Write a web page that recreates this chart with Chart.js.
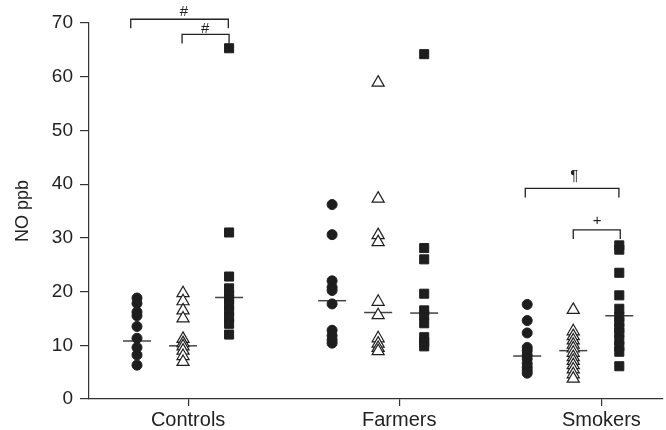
<!DOCTYPE html>
<html>
<head>
<meta charset="utf-8">
<script src="https://cdn.jsdelivr.net/npm/chart.js@4.4.0/dist/chart.umd.min.js"></script>
<style>
  html, body { margin: 0; padding: 0; background: #fff; }
</style>
</head>
<body>
<canvas id="chart" width="666" height="430"></canvas>
<script>
// categories and where they sit on the x axis (axis units)
const categories = ['Controls', 'Farmers', 'Smokers'];
const groupCenters = [1, 2, 3];
const tickPositions = [1.026, 2.108, 3.144];
const subOffsets = [-0.236, 0, 0.236]; // circle, triangle, square

// NO ppb values
const controlsCircle = [18.8, 17.8, 16.2, 15.5, 13.5, 11.3, 9.6, 8.2, 6.3];
const controlsTriangle = [19.7, 18.2, 16.5, 15.0, 11.2, 10.4, 9.8, 9.0, 8.0, 6.9];
const controlsSquare = [65.3, 31.0, 22.8, 20.6, 19.3, 18.6, 17.5, 16.4, 15.2, 14.0, 12.0];

const farmersCircle = [36.2, 30.6, 22.0, 20.8, 20.2, 17.7, 12.8, 11.8, 11.0, 10.4];
const farmersTriangle = [58.9, 37.3, 30.5, 29.2, 18.1, 15.6, 11.3, 10.3, 9.5, 8.9];
const farmersSquare = [64.2, 28.1, 26.0, 19.6, 16.5, 15.6, 14.1, 11.5, 10.6, 9.8];

const smokersCircle = [17.6, 14.6, 12.3, 9.6, 9.0, 8.2, 7.5, 6.6, 5.9, 5.3, 4.8];
const smokersTriangle = [16.6, 12.6, 11.7, 10.9, 10.1, 9.4, 8.6, 7.8, 7.1, 6.3, 5.5, 4.6, 3.8];
const smokersSquare = [28.6, 27.8, 23.5, 19.3, 16.8, 15.3, 14.3, 13.2, 12.3, 11.0, 9.8, 8.8, 6.1];

// median bars: [circle, triangle, square] per group
const controlsMedian = [10.8, 9.9, 18.9];
const farmersMedian = [18.3, 16.1, 16.0];
const smokersMedian = [8.0, 9.0, 15.5];

// significance brackets
const bracketLabels = ['#', '#', '\u00B6', '+'];
const bracketFrom = [0.732, 0.995, 2.754, 3.0];
const bracketTo = [1.232, 1.236, 3.234, 3.241];
const bracketTop = [70.7, 67.9, 39.2, 31.5];
const bracketLeg = 1.7;
const bracketTextX = [1.005, 1.113, 3.005, 3.123];
const bracketTextY = [72.1, 69.0, 41.5, 33.2];

const ink = '#1e1e1e';
Chart.defaults.font.family = '"Liberation Sans", Arial, Helvetica, sans-serif';
Chart.defaults.color = '#222';

const byGroup = {
  circle: [controlsCircle, farmersCircle, smokersCircle],
  triangle: [controlsTriangle, farmersTriangle, smokersTriangle],
  square: [controlsSquare, farmersSquare, smokersSquare]
};
const medians = [controlsMedian, farmersMedian, smokersMedian];

function points(lists, sub) {
  const out = [];
  lists.forEach((vals, g) => {
    vals.forEach(v => out.push({ x: groupCenters[g] + subOffsets[sub], y: v }));
  });
  return out;
}

const medianPoints = [];
medians.forEach((m, g) => {
  m.forEach((v, s) => medianPoints.push({ x: groupCenters[g] + subOffsets[s], y: v }));
});

const bracketPlugin = {
  id: 'brackets',
  afterDatasetsDraw(chart) {
    const { ctx, scales: { x, y } } = chart;
    ctx.save();
    ctx.strokeStyle = '#222';
    ctx.lineWidth = 1.3;
    ctx.fillStyle = '#222';
    ctx.font = '15px "Liberation Sans", Arial, sans-serif';
    ctx.textAlign = 'center';
    ctx.textBaseline = 'middle';
    bracketLabels.forEach((lab, i) => {
      const x1 = x.getPixelForValue(bracketFrom[i]);
      const x2 = x.getPixelForValue(bracketTo[i]);
      const yt = y.getPixelForValue(bracketTop[i]);
      const yb = y.getPixelForValue(bracketTop[i] - bracketLeg);
      ctx.beginPath();
      ctx.moveTo(x1, yb);
      ctx.lineTo(x1, yt);
      ctx.lineTo(x2, yt);
      ctx.lineTo(x2, yb);
      ctx.stroke();
      ctx.fillText(lab, x.getPixelForValue(bracketTextX[i]), y.getPixelForValue(bracketTextY[i]));
    });
    ctx.restore();
  }
};

new Chart(document.getElementById('chart'), {
  type: 'scatter',
  data: {
    datasets: [
      {
        label: 'circle',
        data: points(byGroup.circle, 0),
        pointStyle: 'circle',
        pointRadius: 5,
        borderWidth: 1,
        backgroundColor: ink,
        borderColor: ink
      },
      {
        label: 'triangle',
        data: points(byGroup.triangle, 1),
        pointStyle: 'triangle',
        pointRadius: 7,
        borderWidth: 1.2,
        backgroundColor: '#fff',
        borderColor: ink
      },
      {
        label: 'square',
        data: points(byGroup.square, 2),
        pointStyle: 'rect',
        pointRadius: 6.4,
        borderWidth: 1,
        backgroundColor: ink,
        borderColor: ink
      },
      {
        label: 'median',
        data: medianPoints,
        pointStyle: 'line',
        pointRadius: 14,
        borderWidth: 1.5,
        borderColor: '#444',
        backgroundColor: '#444'
      }
    ]
  },
  options: {
    responsive: false,
    animation: false,
    layout: { autoPadding: false, padding: { top: 23, right: 3, left: 0, bottom: 0 } },
    plugins: {
      legend: { display: false },
      tooltip: { enabled: false }
    },
    scales: {
      x: {
        type: 'linear',
        bounds: 'data',
        min: 0.518,
        max: 3.46,
        afterBuildTicks: axis => { axis.ticks = tickPositions.map(v => ({ value: v })); },
        afterFit: s => { s.height = 31; s.paddingLeft = 0; s.paddingRight = 0; },
        ticks: {
          callback: (v, i) => categories[i],
          font: { size: 20 },
          padding: 2,
          maxRotation: 0,
          autoSkip: false
        },
        grid: { drawOnChartArea: false, tickLength: 7, color: '#333', lineWidth: 1.2 },
        border: { color: '#333', width: 1.2 }
      },
      y: {
        min: 0,
        max: 70,
        afterFit: s => { s.width = 89; s.paddingTop = 0; s.paddingBottom = 0; },
        ticks: { stepSize: 10, font: { size: 19 }, padding: 7 },
        grid: { drawOnChartArea: false, tickLength: 9, color: '#333', lineWidth: 1.2 },
        border: { color: '#333', width: 1.2 },
        title: {
          display: true,
          text: 'NO ppb',
          font: { size: 18 },
          padding: { top: 12, bottom: 0 }
        }
      }
    }
  },
  plugins: [bracketPlugin]
});
</script>
</body>
</html>
